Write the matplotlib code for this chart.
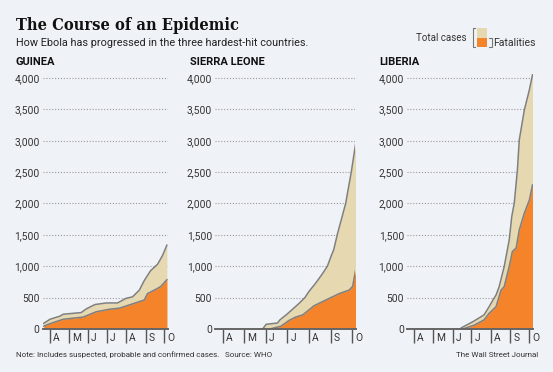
import matplotlib
matplotlib.use("Agg")
import matplotlib.pyplot as plt
import matplotlib.transforms as mtransforms
from matplotlib.patches import Rectangle
from matplotlib.lines import Line2D
import numpy as np

# figure size in pixels
W, H = 553, 372
BG = "#eff2f6"
TAN = "#e6d8b1"
ORANGE = "#f5832a"
EDGE = "#7f7f7f"
plt.rcParams["font.family"] = ["Roboto", "DejaVu Sans"]

# ---- data ----
guinea_case_dates = ["2014-03-22", "2014-04-01", "2014-04-17", "2014-04-22", "2014-05-21",
                     "2014-05-29", "2014-06-12", "2014-06-30", "2014-07-18", "2014-08-01",
                     "2014-08-11", "2014-08-22", "2014-08-30", "2014-09-09", "2014-09-20",
                     "2014-09-28", "2014-10-05"]
guinea_cases = [90, 155, 205, 235, 262, 320, 390, 415, 415, 490, 512, 620, 775, 930, 1030, 1170, 1335]
guinea_death_dates = ["2014-03-22", "2014-04-01", "2014-04-22", "2014-05-24", "2014-06-14",
                      "2014-07-05", "2014-07-21", "2014-08-11", "2014-08-30", "2014-09-04",
                      "2014-09-15", "2014-09-25", "2014-10-05"]
guinea_deaths = [45, 85, 155, 190, 275, 315, 332, 400, 463, 565, 620, 675, 785]

sl_case_dates = ["2014-05-27", "2014-06-01", "2014-06-17", "2014-06-21", "2014-06-30",
                 "2014-07-09", "2014-07-18", "2014-07-26", "2014-08-01", "2014-08-11",
                 "2014-08-20", "2014-08-27", "2014-09-02", "2014-09-05", "2014-09-10",
                 "2014-09-22", "2014-09-30", "2014-10-06"]
sl_cases = [0, 75, 95, 150, 230, 320, 410, 500, 600, 740, 880, 1000, 1180, 1260, 1500, 2000, 2500, 2940]
sl_death_dates = ["2014-06-06", "2014-06-22", "2014-07-04", "2014-07-13", "2014-07-23",
                  "2014-08-08", "2014-08-30", "2014-09-13", "2014-09-27", "2014-10-02", "2014-10-06"]
sl_deaths = [0, 45, 140, 190, 225, 370, 490, 565, 620, 680, 930]

lib_case_dates = ["2014-06-15", "2014-07-03", "2014-07-21", "2014-07-29", "2014-08-04",
                  "2014-08-09", "2014-08-14", "2014-08-22", "2014-08-30", "2014-09-03",
                  "2014-09-07", "2014-09-12", "2014-09-15", "2014-09-23", "2014-10-01", "2014-10-06"]
lib_cases = [20, 115, 225, 355, 460, 540, 675, 995, 1420, 1790, 2005, 2535, 3015, 3490, 3810, 4050]
lib_death_dates = ["2014-06-17", "2014-07-05", "2014-07-21", "2014-07-29", "2014-08-09",
                   "2014-08-17", "2014-08-22", "2014-08-30", "2014-09-04", "2014-09-10",
                   "2014-09-15", "2014-09-23", "2014-10-01", "2014-10-06"]
lib_deaths = [0, 60, 145, 250, 355, 620, 675, 995, 1235, 1290, 1580, 1845, 2055, 2295]

countries = ["GUINEA", "SIERRA LEONE", "LIBERIA"]
month_ticks = ["2014-04-01", "2014-05-01", "2014-06-01", "2014-07-01",
               "2014-08-01", "2014-09-01", "2014-10-01"]
month_labels = ["A", "M", "J", "J", "A", "S", "O"]
y_ticks = [0, 500, 1000, 1500, 2000, 2500, 3000, 3500, 4000]

series = [
    (guinea_case_dates, guinea_cases, guinea_death_dates, guinea_deaths),
    (sl_case_dates, sl_cases, sl_death_dates, sl_deaths),
    (lib_case_dates, lib_cases, lib_death_dates, lib_deaths),
]

# panel left edge / width / name position (pixels)
panel_left = [42.5, 214.8, 406.7]
panel_width = [125.0, 140.7, 125.8]
name_x = [16, 190, 379]


def fx(px):
    return px / W


def fy(py):
    return 1 - py / H


fig = plt.figure(figsize=(W / 100, H / 100), dpi=100)
fig.patch.set_facecolor(BG)

base_px, top_px = 329.0, 71.7
for i in range(3):
    cd, cv, dd, dv = series[i]
    cd = np.array(cd, dtype="datetime64[D]")
    dd = np.array(dd, dtype="datetime64[D]")
    ax = fig.add_axes([fx(panel_left[i]), fy(base_px), fx(panel_width[i]), (base_px - top_px) / H])
    ax.set_facecolor("none")

    # total cases area, fatalities on top of it
    ax.fill_between(cd, cv, 0, color=TAN, lw=0, zorder=2)
    ax.plot(cd, cv, color=EDGE, lw=1.1, zorder=3)
    ax.fill_between(dd, dv, 0, color=ORANGE, lw=0, zorder=4)
    ax.plot(dd, dv, color=EDGE, lw=1.1, zorder=5)

    ax.set_xlim(np.datetime64("2014-03-20"), np.datetime64("2014-10-06"))
    ax.set_ylim(0, 4100)

    ax.set_yticks(y_ticks)
    ax.set_yticklabels([f"{v:,}" for v in y_ticks])
    ax.tick_params(axis="y", length=0, pad=2, labelsize=7.4, labelcolor="#333333")
    ax.grid(axis="y", color="#9a9a9a", lw=0.8, ls=(0, (1, 1.6)), zorder=1)

    for s in ["top", "right", "left"]:
        ax.spines[s].set_visible(False)
    ax.spines["bottom"].set_color("#666666")
    ax.spines["bottom"].set_linewidth(1.4)
    ax.spines["bottom"].set_zorder(6)

    # month ticks hang below the baseline, letters sit just right of them
    ax.set_xticks(np.array(month_ticks, dtype="datetime64[D]"))
    ax.set_xticklabels(month_labels)
    ax.tick_params(axis="x", length=10, width=1, color="#555555", direction="out",
                   pad=-6.8, labelsize=7.4, labelcolor="#333333")
    offset = mtransforms.ScaledTranslation(2.2 / 72, 0, fig.dpi_scale_trans)
    for lbl in ax.get_xticklabels():
        lbl.set_horizontalalignment("left")
        lbl.set_transform(lbl.get_transform() + offset)

    fig.text(fx(name_x[i]), fy(65), countries[i], weight="bold", size=8,
             color="#111111", va="baseline")

# titles
fig.text(fx(16), fy(29.5), "The Course of an Epidemic", family="DejaVu Serif",
         fontstretch="condensed", weight="bold", size=11.8, color="#111111", va="baseline")
fig.text(fx(16), fy(46), "How Ebola has progressed in the three hardest-hit countries.",
         size=7.85, color="#222222", va="baseline")

# legend
fig.text(fx(467), fy(38), "Total cases", size=7.0, color="#333333", ha="right", va="center")
fig.text(fx(493.5), fy(42.5), "Fatalities", size=7.6, color="#333333", ha="left", va="center")
fig.add_artist(Rectangle((fx(477), fy(38)), fx(10), 10 / H, transform=fig.transFigure,
                         color=TAN, lw=0))
fig.add_artist(Rectangle((fx(477), fy(47)), fx(10), 9 / H, transform=fig.transFigure,
                         color=ORANGE, lw=0))
fig.add_artist(Line2D([fx(475), fx(472.5), fx(472.5), fx(475)], [fy(28), fy(28), fy(47), fy(47)],
                      transform=fig.transFigure, color="#777777", lw=0.8))
fig.add_artist(Line2D([fx(489), fx(491.5), fx(491.5), fx(489)], [fy(38), fy(38), fy(47), fy(47)],
                      transform=fig.transFigure, color="#777777", lw=0.8))

# footer
fig.text(fx(16), fy(355), "Note: Includes suspected, probable and confirmed cases.",
         size=5.8, color="#333333", va="center")
fig.text(fx(225), fy(355), "Source: WHO", size=5.8, color="#333333", va="center")
fig.text(fx(538), fy(355), "The Wall Street Journal", size=5.8, color="#333333",
         ha="right", va="center")

fig.savefig("out.png", dpi=100, facecolor=BG)
